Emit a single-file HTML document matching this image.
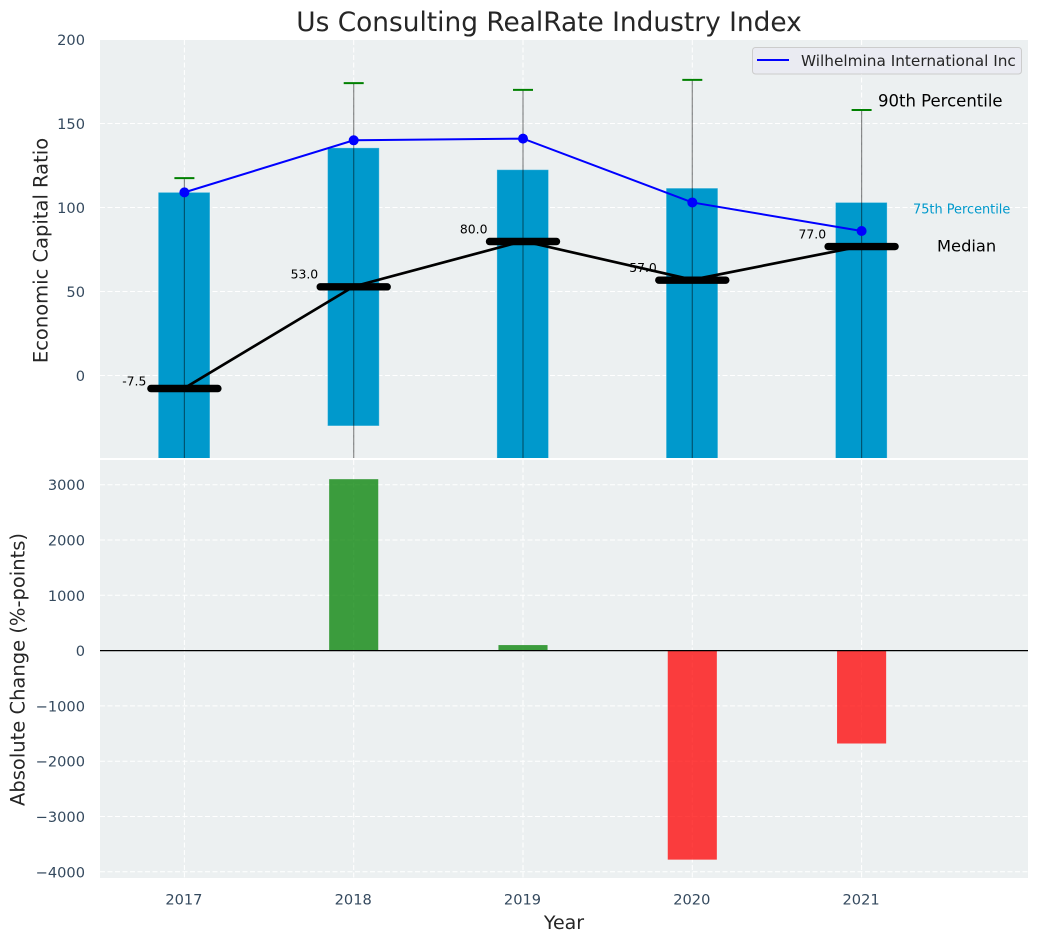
<!DOCTYPE html>
<html lang="en">
<head>
<meta charset="utf-8">
<title>Us Consulting RealRate Industry Index</title>
<style>
html,body{margin:0;padding:0;background:#fff;width:1039px;height:942px;overflow:hidden}
svg{display:block;font-family:"DejaVu Sans","Liberation Sans",sans-serif}
</style>
</head>
<body>
<svg id="chart" xmlns="http://www.w3.org/2000/svg" width="1039" height="942" viewBox="0 0 1039 942">
  <defs>
    <clipPath id="clip-top"><rect x="100" y="40" width="928" height="418"/></clipPath>
    <clipPath id="clip-bottom"><rect x="100" y="460" width="928" height="418"/></clipPath>
  </defs>
  <rect x="100" y="40" width="928" height="418" fill="#ecf0f1"/>
  <rect x="100" y="460" width="928" height="418" fill="#ecf0f1"/>
  <g id="top-grid" clip-path="url(#clip-top)"></g>
  <g id="bottom-grid" clip-path="url(#clip-bottom)"></g>
  <g id="top-marks" clip-path="url(#clip-top)"></g>
  <g id="bottom-marks" clip-path="url(#clip-bottom)"></g>
  <g id="axis-labels"></g>
  <text x="549" y="31" text-anchor="middle" font-size="26.4" fill="#262626">Us Consulting RealRate Industry Index</text>
  <text transform="translate(47.5,250.5) rotate(-90)" text-anchor="middle" font-size="19.5" fill="#262626">Economic Capital Ratio</text>
  <text transform="translate(24.5,669.5) rotate(-90)" text-anchor="middle" font-size="19.5" fill="#262626">Absolute Change (%-points)</text>
  <text x="564" y="929" text-anchor="middle" font-size="19" fill="#262626">Year</text>
  <text x="878" y="106.5" font-size="16.5" fill="#000">90th Percentile</text>
  <text x="913" y="213.5" font-size="12.9" fill="#0099cc">75th Percentile</text>
  <text x="937" y="251.5" font-size="16.3" fill="#000">Median</text>
  <g>
    <rect x="752.5" y="47.5" width="269" height="26.5" rx="3" fill="#eaeaf2" fill-opacity="0.9" stroke="#cccccc"/>
    <line x1="757" y1="60" x2="789" y2="60" stroke="#0000ff" stroke-width="2"/>
    <text x="801" y="66" font-size="15.3" fill="#262626">Wilhelmina International Inc</text>
  </g>
</svg>
<script>
const years = [2017, 2018, 2019, 2020, 2021];
const p75 = [109, 135.5, 122.5, 111.5, 103];
const p25 = [-60, -30, -60, -60, -60];
const p90 = [117.5, 174, 170, 176, 158];
const p10 = [-80, -80, -80, -80, -80];
const medians = [-7.5, 53, 80, 57, 77];
const medianLabels = ['-7.5', '53.0', '80.0', '57.0', '77.0'];
const company = [109, 140, 141, 103, 86];
const changes = [0, 3100, 100, -3780, -1680];
const topTicks = [0, 50, 100, 150, 200];
const bottomTicks = [-4000, -3000, -2000, -1000, 0, 1000, 2000, 3000];

const NS = 'http://www.w3.org/2000/svg';
const X_SCALE = 169.3;
const xAxis = function (v) { return 184.4 + (v - 2017) * X_SCALE; };
const yTop = function (v) { return 375.5 - v * 1.68; };
const yBottom = function (v) { return 650.6 - v * 0.0553; };

function make(parent, tag, attrs, text) {
  const el = document.createElementNS(NS, tag);
  for (const k in attrs) el.setAttribute(k, attrs[k]);
  if (text !== undefined) el.textContent = text;
  parent.appendChild(el);
  return el;
}
const topGrid = document.getElementById('top-grid');
const bottomGrid = document.getElementById('bottom-grid');
const topMarks = document.getElementById('top-marks');
const bottomMarks = document.getElementById('bottom-marks');
const labels = document.getElementById('axis-labels');
const gridStyle = { stroke: '#ffffff', 'stroke-width': 1, 'stroke-dasharray': '5 2.5' };
const tickColor = '#34495e';

topTicks.forEach(function (t) {
  const g = make(topGrid, 'line', Object.assign({ x1: 100, x2: 1028, y1: yTop(t), y2: yTop(t) }, gridStyle));
  
  
  const l = make(labels, 'text', { x: 85, y: yTop(t) + 5.5, 'text-anchor': 'end', 'font-size': 14.6, fill: tickColor }, String(t));
  
  
});
bottomTicks.forEach(function (t) {
  const g = make(bottomGrid, 'line', Object.assign({ x1: 100, x2: 1028, y1: yBottom(t), y2: yBottom(t) }, gridStyle));
  
  
  const txt = t < 0 ? '\u2212' + Math.abs(t) : String(t);
  const l = make(labels, 'text', { x: 85, y: yBottom(t) + 5.5, 'text-anchor': 'end', 'font-size': 14.6, fill: tickColor }, txt);
  
  
});
years.forEach(function (y) {
  const a = make(topGrid, 'line', Object.assign({ x1: xAxis(y), x2: xAxis(y), y1: 40, y2: 458 }, gridStyle));
  
  
  const b = make(bottomGrid, 'line', Object.assign({ x1: xAxis(y), x2: xAxis(y), y1: 460, y2: 878 }, gridStyle));
  
  
  const l = make(labels, 'text', { x: xAxis(y) - 0.5, y: 904.5, 'text-anchor': 'middle', 'font-size': 14.6, fill: tickColor }, String(y));
  
  
});

years.forEach(function (y, i) {
  const bw = 0.305 * X_SCALE;
  const bar = make(topMarks, 'rect', {
    x: xAxis(y) - bw / 2 - 0.3, y: yTop(p75[i]), width: bw, height: yTop(p25[i]) - yTop(p75[i]),
    fill: '#0099cc', stroke: '#ffffff', 'stroke-opacity': 0.3, 'stroke-width': 1
  });
  
  
});
years.forEach(function (y, i) {
  const w = make(topMarks, 'line', {
    x1: xAxis(y), x2: xAxis(y), y1: yTop(p90[i]), y2: yTop(p10[i]),
    stroke: '#000', 'stroke-opacity': 0.45, 'stroke-width': 1.2
  });
  
  
  const c = make(topMarks, 'line', {
    x1: xAxis(y) - 10, x2: xAxis(y) + 10, y1: yTop(p90[i]), y2: yTop(p90[i]),
    stroke: '#008000', 'stroke-width': 2
  });
  
  
});

const medianLine = make(topMarks, 'polyline', {
  points: years.map(function (y, i) { return xAxis(y) + ',' + yTop(medians[i]); }).join(' '),
  fill: 'none', stroke: '#000', 'stroke-width': 2.7
});



years.forEach(function (y, i) {
  const m = make(topMarks, 'line', {
    x1: xAxis(y) - 33.5, x2: xAxis(y) + 33.5, y1: yTop(medians[i]) + 0.4, y2: yTop(medians[i]) + 0.4,
    stroke: '#000', 'stroke-width': 7.4, 'stroke-linecap': 'round'
  });
  
  
  const shift = medians[i] < 0 ? 3.9 : 7;
  const gap = medians[i] < 0 ? 38 : 35.5;
  const t = make(labels, 'text', {
    x: xAxis(y) - gap, y: yTop(medians[i] + shift) + 4, 'text-anchor': 'end', 'font-size': 12.4, fill: '#000'
  }, medianLabels[i]);
  
  
});

const companyLine = make(topMarks, 'polyline', {
  points: years.map(function (y, i) { return xAxis(y) + ',' + yTop(company[i]); }).join(' '),
  fill: 'none', stroke: '#0000ff', 'stroke-width': 2
});


years.forEach(function (y, i) {
  const p = make(topMarks, 'circle', { cx: xAxis(y), cy: yTop(company[i]), r: 5, fill: '#0000ff' });
  
  
});

years.forEach(function (y, i) {
  const v = changes[i];
  if (v === 0) return;
  const bw = 0.29 * X_SCALE;
  const b = make(bottomMarks, 'rect', {
    x: xAxis(y) - bw / 2, y: Math.min(yBottom(v), yBottom(0)), width: bw,
    height: Math.abs(yBottom(v) - yBottom(0)),
    fill: v > 0 ? '#008000' : '#ff0000', 'fill-opacity': 0.75
  });
  
  
});
const zero = make(bottomMarks, 'line', { x1: 100, x2: 1028, y1: yBottom(0), y2: yBottom(0), stroke: '#000', 'stroke-width': 1.2 });


</script>
</body>
</html>
